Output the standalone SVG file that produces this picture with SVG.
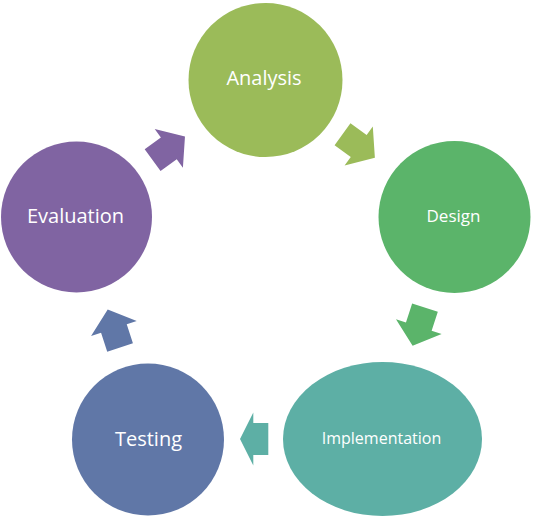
<svg xmlns="http://www.w3.org/2000/svg" width="545" height="516" viewBox="0 0 545 516">
<style>
.lbl{font-family:"Open Sans","Noto Sans","Liberation Sans",sans-serif;fill:#ffffff;text-anchor:middle}
</style>
<defs>
<polygon id="arr" points="-20,-13.5 0,-13.5 0,-24 20,0 0,24 0,13.5 -20,13.5"/>
</defs>
<rect width="545" height="516" fill="#ffffff"/>
<g id="connectors">
<use href="#arr" fill="#9BBB59" transform="translate(358.7,146) rotate(36)"/>
<use href="#arr" fill="#5BB46A" transform="translate(418.8,326.7) rotate(108)"/>
<polygon fill="#5DAFA5" points="268.3,423 253.3,423 253.3,412.5 240,439 253.3,465.5 253.3,455 268.3,455"/>
<use href="#arr" fill="#6077A7" transform="translate(113.9,328.5) rotate(252)"/>
<use href="#arr" fill="#8064A2" transform="translate(168.8,148.3) rotate(324)"/>
</g>
<g id="analysis">
<circle cx="265.5" cy="80" r="77" fill="#9BBB59"/>
<text class="lbl" x="264" y="85" font-size="20">Analysis</text>
</g>
<g id="design">
<circle cx="454.5" cy="217" r="76" fill="#5BB46A"/>
<text class="lbl" x="453.5" y="222" font-size="17">Design</text>
</g>
<g id="implementation">
<ellipse cx="382.5" cy="439" rx="99.5" ry="77" fill="#5DAFA5"/>
<text class="lbl" x="381.5" y="444" font-size="16">Implementation</text>
</g>
<g id="testing">
<circle cx="148" cy="439.5" r="76" fill="#6077A7"/>
<text class="lbl" x="148.5" y="446" font-size="20">Testing</text>
</g>
<g id="evaluation">
<circle cx="76.5" cy="217" r="75.5" fill="#8064A2"/>
<text class="lbl" x="75.5" y="223" font-size="20">Evaluation</text>
</g>
</svg>
